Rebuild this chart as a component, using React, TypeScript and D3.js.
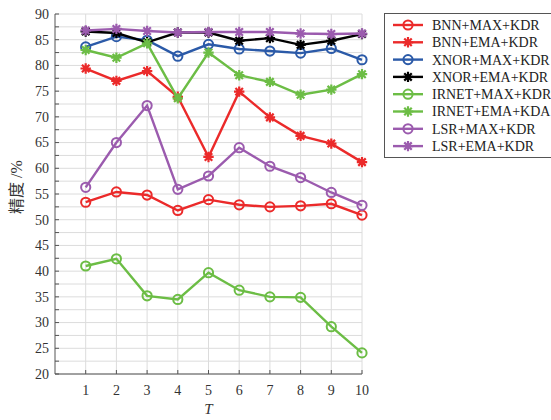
import React from 'react';
import * as d3 from 'd3';

const epochs = [1, 2, 3, 4, 5, 6, 7, 8, 9, 10];
const yTicks = [20, 25, 30, 35, 40, 45, 50, 55, 60, 65, 70, 75, 80, 85, 90];

const seriesNames = [
  'BNN+MAX+KDR',
  'BNN+EMA+KDR',
  'XNOR+MAX+KDR',
  'XNOR+EMA+KDR',
  'IRNET+MAX+KDR',
  'IRNET+EMA+KDA',
  'LSR+MAX+KDR',
  'LSR+EMA+KDR',
];
const seriesColors = ['#eb2a2a', '#eb2a2a', '#2b5aa8', '#000000', '#6cbd45', '#6cbd45', '#9b5bae', '#9b5bae'];
const seriesMarkers = ['circle', 'star', 'circle', 'star', 'circle', 'star', 'circle', 'star'];

const bnnMax = [53.4, 55.4, 54.8, 51.8, 53.9, 52.9, 52.5, 52.7, 53.1, 50.9];
const bnnEma = [79.4, 77.0, 78.9, 73.9, 62.2, 74.9, 69.9, 66.3, 64.8, 61.2];
const xnorMax = [83.6, 85.6, 84.9, 81.8, 84.1, 83.2, 82.8, 82.4, 83.3, 81.1];
const xnorEma = [86.6, 86.3, 84.5, 86.4, 86.4, 84.8, 85.3, 84.0, 84.8, 86.1];
const irnetMax = [41.0, 42.4, 35.2, 34.5, 39.7, 36.3, 35.0, 34.9, 29.2, 24.1];
const irnetEma = [83.0, 81.5, 84.3, 73.6, 82.5, 78.1, 76.8, 74.3, 75.3, 78.3];
const lsrMax = [56.3, 65.0, 72.2, 55.9, 58.5, 64.0, 60.4, 58.2, 55.3, 52.8];
const lsrEma = [86.8, 87.1, 86.7, 86.4, 86.5, 86.5, 86.5, 86.2, 86.1, 86.2];

const seriesValues = [bnnMax, bnnEma, xnorMax, xnorEma, irnetMax, irnetEma, lsrMax, lsrEma];

const W = 551;
const H = 420;
const margin = { left: 55, right: 189, top: 14, bottom: 46 };
const serif = '"Liberation Serif", "Times New Roman", serif';

const Marker = ({ kind, x, y, color }: { kind: string; x: number; y: number; color: string }) => {
  if (kind === 'circle') {
    return <circle cx={x} cy={y} r={4.6} fill="none" stroke={color} strokeWidth={2} />;
  }
  const r = 5.2;
  const d = r * 0.72;
  return (
    <path
      d={`M${x - r},${y}L${x + r},${y}M${x},${y - r}L${x},${y + r}M${x - d},${y - d}L${x + d},${y + d}M${x - d},${y + d}L${x + d},${y - d}`}
      stroke={color}
      strokeWidth={2.2}
      fill="none"
    />
  );
};

const App = () => {
  const x = d3.scaleLinear().domain([0, 10]).range([margin.left, W - margin.right]);
  const y = d3.scaleLinear().domain([20, 90]).range([H - margin.bottom, margin.top]);

  const line = d3
    .line<number>()
    .x((_, i) => x(epochs[i]))
    .y((v) => y(v));

  const minorTicks = d3.range(20, 90.01, 2.5);

  return (
    <svg
      width={W}
      height={H}
      style={{ position: 'absolute', left: 0, top: 0, background: '#fff' }}
      fontFamily={serif}
    >
      {/* grid */}
      <g stroke="#dcdcdc" strokeWidth={1}>
        {minorTicks.map((t) => (
          <line key={'h' + t} x1={x(0)} x2={x(10)} y1={y(t)} y2={y(t)} />
        ))}
        {epochs.map((e) => (
          <line key={'v' + e} x1={x(e)} x2={x(e)} y1={y(20)} y2={y(90)} />
        ))}
      </g>

      {/* axes */}
      <g stroke="#555" strokeWidth={1}>
        <line x1={x(0)} x2={x(0)} y1={y(20)} y2={y(90)} />
        <line x1={x(0)} x2={x(10)} y1={y(20)} y2={y(20)} />
        {minorTicks.map((t) => (
          <line key={'yt' + t} x1={x(0)} x2={x(0) + 4} y1={y(t)} y2={y(t)} />
        ))}
        {epochs.map((e) => (
          <line key={'xt' + e} x1={x(e)} x2={x(e)} y1={y(20)} y2={y(20) - 4} />
        ))}
      </g>

      <g fontSize={14} fill="#333">
        {yTicks.map((t) => (
          <text key={'yl' + t} x={x(0) - 6} y={y(t)} dy="0.35em" textAnchor="end">
            {t}
          </text>
        ))}
        {epochs.map((e) => (
          <text key={'xl' + e} x={x(e)} y={y(20) + 21} textAnchor="middle">
            {e}
          </text>
        ))}
      </g>

      <text x={(x(0) + x(10)) / 2} y={414} fontSize={15} fontStyle="italic" textAnchor="middle" fill="#333">
        T
      </text>
      <text
        transform={`translate(22, 187) rotate(-90)`}
        fontSize={16}
        textAnchor="middle"
        fill="#333"
        fontFamily={'"Liberation Serif", "Noto Sans CJK SC", serif'}
      >
        精度 /%
      </text>

      {/* series */}
      {seriesValues.map((vals, si) => (
        <g key={seriesNames[si]}>
          <path d={line(vals) || ''} fill="none" stroke={seriesColors[si]} strokeWidth={2.4} />
          {vals.map((v, i) => (
            <Marker key={i} kind={seriesMarkers[si]} x={x(epochs[i])} y={y(v)} color={seriesColors[si]} />
          ))}
        </g>
      ))}

      {/* legend */}
      <g>
        <rect x={384.5} y={13.5} width={170} height={144} fill="#fff" stroke="#555" strokeWidth={1} />
        {seriesNames.map((name, i) => {
          const ly = 25 + i * 17.3;
          return (
            <g key={'lg' + name}>
              <line x1={393} x2={423} y1={ly} y2={ly} stroke={seriesColors[i]} strokeWidth={2.4} />
              <Marker kind={seriesMarkers[i]} x={408} y={ly} color={seriesColors[i]} />
              <text x={432} y={ly} dy="0.35em" fontSize={14} fill="#222">
                {name}
              </text>
            </g>
          );
        })}
      </g>
    </svg>
  );
};

export default App;
